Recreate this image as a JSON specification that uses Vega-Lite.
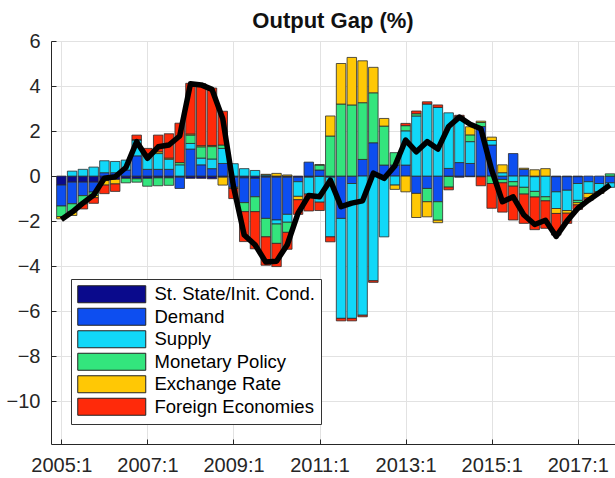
{
  "$schema": "https://vega.github.io/schema/vega-lite/v6.json",
  "width": 564,
  "height": 403,
  "autosize": {"type": "none"},
  "padding": {"left": 51, "top": 41, "right": 0, "bottom": 34},
  "background": "white",
  "title": {"text": "Output Gap (%)", "fontSize": 22, "fontWeight": "bold", "font": "Liberation Sans", "color": "#111111", "offset": -2, "anchor": "middle"},
  "config": {"view": {"stroke": null}, "font": "Liberation Sans"},
  "datasets": {
    "components": [
      {"key": "ss", "name": "St. State/Init. Cond.", "ord": 1},
      {"key": "dem", "name": "Demand", "ord": 2},
      {"key": "sup", "name": "Supply", "ord": 3},
      {"key": "mon", "name": "Monetary Policy", "ord": 4},
      {"key": "exr", "name": "Exchange Rate", "ord": 5},
      {"key": "fe", "name": "Foreign Economies", "ord": 6}
    ],
    "decomp": [
      {"t": 2005.00, "ss": -0.4, "dem": -0.93, "sup": 0, "mon": -0.47, "exr": -0.1, "fe": 0, "gap": -1.93},
      {"t": 2005.25, "ss": -0.27, "dem": -0.96, "sup": 0.22, "mon": -0.37, "exr": -0.15, "fe": 0, "gap": -1.6},
      {"t": 2005.50, "ss": -0.27, "dem": -0.6, "sup": 0.3, "mon": -0.37, "exr": 0, "fe": -0.22, "gap": -1.2},
      {"t": 2005.75, "ss": -0.27, "dem": -0.44, "sup": 0.4, "mon": -0.15, "exr": -0.1, "fe": -0.25, "gap": -0.84},
      {"t": 2006.00, "ss": -0.2, "dem": 0.15, "sup": 0.53, "mon": 0, "exr": -0.2, "fe": -0.38, "gap": -0.1},
      {"t": 2006.25, "ss": -0.15, "dem": 0.15, "sup": 0.5, "mon": 0, "exr": -0.2, "fe": -0.33, "gap": -0.03},
      {"t": 2006.50, "ss": -0.1, "dem": 0.27, "sup": 0.44, "mon": -0.2, "exr": 0, "fe": 0, "gap": 0.38},
      {"t": 2006.75, "ss": -0.12, "dem": 0.9, "sup": 0.7, "mon": -0.15, "exr": 0.02, "fe": 0.2, "gap": 1.53},
      {"t": 2007.00, "ss": -0.1, "dem": 0.3, "sup": 0.65, "mon": -0.35, "exr": 0.03, "fe": 0.25, "gap": 0.79},
      {"t": 2007.25, "ss": -0.08, "dem": 0.3, "sup": 0.7, "mon": -0.35, "exr": 0.08, "fe": 0.74, "gap": 1.3},
      {"t": 2007.50, "ss": -0.08, "dem": 0.3, "sup": 0.45, "mon": -0.33, "exr": 0.05, "fe": 1.08, "gap": 1.38},
      {"t": 2007.75, "ss": -0.05, "dem": -0.5, "sup": 0.5, "mon": 0.1, "exr": 0, "fe": 1.75, "gap": 1.78},
      {"t": 2008.00, "ss": -0.1, "dem": 1.2, "sup": 0.25, "mon": 0.37, "exr": 0.05, "fe": 2.25, "gap": 4.1},
      {"t": 2008.25, "ss": -0.1, "dem": 0.5, "sup": 0.3, "mon": 0.5, "exr": 0.05, "fe": 2.75, "gap": 4.05},
      {"t": 2008.50, "ss": -0.12, "dem": 0.33, "sup": 0.43, "mon": 0.55, "exr": 0.05, "fe": 2.55, "gap": 3.85},
      {"t": 2008.75, "ss": -0.05, "dem": 0.56, "sup": 0.67, "mon": 0.15, "exr": -0.35, "fe": 1.5, "gap": 2.55},
      {"t": 2009.00, "ss": -0.05, "dem": -0.45, "sup": 0.55, "mon": 0, "exr": -0.05, "fe": -0.45, "gap": -0.47},
      {"t": 2009.25, "ss": -0.08, "dem": -1.1, "sup": 0.33, "mon": -0.4, "exr": 0, "fe": -1.33, "gap": -2.62},
      {"t": 2009.50, "ss": -0.1, "dem": -0.82, "sup": 0.25, "mon": -0.66, "exr": 0, "fe": -1.65, "gap": -3.05},
      {"t": 2009.75, "ss": -0.05, "dem": -1.83, "sup": 0.05, "mon": -0.82, "exr": 0.03, "fe": -1.26, "gap": -3.82},
      {"t": 2010.00, "ss": -0.05, "dem": -1.9, "sup": -0.18, "mon": -0.86, "exr": 0.12, "fe": -1.03, "gap": -3.78},
      {"t": 2010.25, "ss": -0.05, "dem": -1.65, "sup": -0.35, "mon": -0.45, "exr": 0.05, "fe": -0.75, "gap": -3.05},
      {"t": 2010.50, "ss": -0.05, "dem": -0.2, "sup": -0.65, "mon": 0, "exr": -0.15, "fe": -0.65, "gap": -1.65},
      {"t": 2010.75, "ss": -0.05, "dem": 0.62, "sup": -0.75, "mon": 0, "exr": 0, "fe": -0.75, "gap": -0.86},
      {"t": 2011.00, "ss": -0.02, "dem": 0.27, "sup": -1.14, "mon": 0.22, "exr": 0.02, "fe": -0.37, "gap": -0.92},
      {"t": 2011.25, "ss": -0.05, "dem": 0, "sup": -2.65, "mon": 1.78, "exr": 0.89, "fe": -0.22, "gap": -0.18},
      {"t": 2011.50, "ss": 0, "dem": -1.88, "sup": -4.44, "mon": 3.2, "exr": 1.8, "fe": -0.11, "gap": -1.36},
      {"t": 2011.75, "ss": 0, "dem": -0.33, "sup": -5.99, "mon": 3.16, "exr": 2.11, "fe": -0.11, "gap": -1.2},
      {"t": 2012.00, "ss": 0, "dem": 0.74, "sup": -6.18, "mon": 2.52, "exr": 1.86, "fe": -0.07, "gap": -1.1},
      {"t": 2012.25, "ss": 0, "dem": 1.48, "sup": -4.65, "mon": 2.22, "exr": 1.13, "fe": -0.07, "gap": 0.13},
      {"t": 2012.50, "ss": 0, "dem": 0.49, "sup": -2.7, "mon": 1.73, "exr": 0.34, "fe": 0, "gap": -0.1},
      {"t": 2012.75, "ss": 0, "dem": 0.49, "sup": -0.4, "mon": 0.55, "exr": -0.19, "fe": 0, "gap": 0.45},
      {"t": 2013.00, "ss": 0, "dem": 0.49, "sup": 1.52, "mon": 0.23, "exr": -0.7, "fe": 0.1, "gap": 1.6},
      {"t": 2013.25, "ss": 0, "dem": -0.77, "sup": 2.67, "mon": 0.1, "exr": -1.07, "fe": 0.12, "gap": 1.08},
      {"t": 2013.50, "ss": 0, "dem": -0.55, "sup": 3.2, "mon": -0.59, "exr": -0.67, "fe": 0.1, "gap": 1.53},
      {"t": 2013.75, "ss": 0, "dem": -1.14, "sup": 3.05, "mon": -0.82, "exr": -0.11, "fe": 0.11, "gap": 1.2},
      {"t": 2014.00, "ss": -0.02, "dem": 0.34, "sup": 2.47, "mon": -0.47, "exr": 0, "fe": -0.12, "gap": 2.2},
      {"t": 2014.25, "ss": -0.05, "dem": 0.6, "sup": 2.0, "mon": 0.02, "exr": 0.03, "fe": 0.05, "gap": 2.62},
      {"t": 2014.50, "ss": -0.03, "dem": 0.56, "sup": 0.97, "mon": 0.3, "exr": 0.36, "fe": 0, "gap": 2.3},
      {"t": 2014.75, "ss": -0.03, "dem": 2.2, "sup": 0, "mon": 0.18, "exr": 0.06, "fe": -0.4, "gap": 2.1},
      {"t": 2015.00, "ss": 0, "dem": 1.38, "sup": 0.2, "mon": -0.33, "exr": 0.15, "fe": -1.1, "gap": 0.27},
      {"t": 2015.25, "ss": 0, "dem": -0.15, "sup": 0.15, "mon": -0.15, "exr": 0.35, "fe": -1.3, "gap": -1.14},
      {"t": 2015.50, "ss": 0, "dem": 1.0, "sup": -0.25, "mon": -0.2, "exr": 0, "fe": -1.5, "gap": -0.92},
      {"t": 2015.75, "ss": 0, "dem": 0.3, "sup": -0.5, "mon": -0.3, "exr": 0.05, "fe": -1.3, "gap": -1.73},
      {"t": 2016.00, "ss": -0.03, "dem": 0, "sup": -0.65, "mon": -0.25, "exr": 0.28, "fe": -1.45, "gap": -2.15},
      {"t": 2016.25, "ss": 0, "dem": 0, "sup": -0.92, "mon": -0.18, "exr": 0.33, "fe": -1.22, "gap": -1.96},
      {"t": 2016.50, "ss": -0.03, "dem": -0.67, "sup": -0.74, "mon": 0, "exr": -0.22, "fe": -0.96, "gap": -2.68},
      {"t": 2016.75, "ss": -0.03, "dem": -0.6, "sup": -0.9, "mon": 0, "exr": -0.12, "fe": -0.45, "gap": -2.0},
      {"t": 2017.00, "ss": -0.03, "dem": -0.3, "sup": -0.75, "mon": -0.1, "exr": -0.1, "fe": -0.2, "gap": -1.44},
      {"t": 2017.25, "ss": 0, "dem": -0.25, "sup": -0.52, "mon": 0, "exr": -0.2, "fe": -0.1, "gap": -1.07},
      {"t": 2017.50, "ss": 0, "dem": -0.33, "sup": -0.37, "mon": 0, "exr": -0.07, "fe": 0, "gap": -0.74},
      {"t": 2017.75, "ss": 0, "dem": -0.3, "sup": -0.2, "mon": 0.1, "exr": 0, "fe": 0, "gap": -0.4}
    ]
  },
  "layer": [
    {
      "data": {"name": "decomp"},
      "transform": [
        {"fold": ["ss", "dem", "sup", "mon", "exr", "fe"], "as": ["key", "value"]},
        {"filter": "datum.value != 0"},
        {"lookup": "key", "from": {"data": {"name": "components"}, "key": "key", "fields": ["name", "ord"]}}
      ],
      "mark": {"type": "bar", "size": 9.5, "stroke": "#2b2b2b", "strokeWidth": 0.8, "clip": true},
      "encoding": {
        "x": {
          "field": "t", "type": "quantitative",
          "scale": {"domain": [2004.875, 2017.75], "nice": false, "zero": false},
          "axis": {
            "title": null, "values": [2005, 2007, 2009, 2011, 2013, 2015, 2017],
            "labelExpr": "datum.value + ':1'",
            "grid": true, "gridColor": "#e2e2e2", "gridWidth": 1,
            "domainColor": "#262626", "tickColor": "#262626", "tickSize": -5,
            "labelFontSize": 20, "labelFont": "Liberation Sans", "labelColor": "#262626", "labelPadding": 16,
            "labelFlush": false, "labelOverlap": false
          }
        },
        "y": {
          "field": "value", "type": "quantitative", "stack": "zero",
          "scale": {"domain": [-11.9, 6], "nice": false},
          "axis": {
            "title": null, "values": [-10, -8, -6, -4, -2, 0, 2, 4, 6],
            "grid": true, "gridColor": "#e2e2e2", "gridWidth": 1,
            "domainColor": "#262626", "tickColor": "#262626", "tickSize": -5,
            "labelFontSize": 20, "labelFont": "Liberation Sans", "labelColor": "#262626", "labelPadding": 16,
            "labelFlush": false, "labelOverlap": false
          }
        },
        "color": {
          "field": "name", "type": "nominal",
          "scale": {
            "domain": ["St. State/Init. Cond.", "Demand", "Supply", "Monetary Policy", "Exchange Rate", "Foreign Economies"],
            "range": ["#0A0A8C", "#0D4EF0", "#11D8F8", "#33E57D", "#FFC805", "#FF2A0A"]
          },
          "legend": {
            "title": null, "orient": "bottom-left", "offset": 20,
            "fillColor": "white", "strokeColor": "#333333", "padding": 6,
            "labelFontSize": 18.5, "labelFont": "Liberation Sans", "labelColor": "#000000", "labelLimit": 400,
            "symbolType": "M-1,-1H7V1H-1Z", "symbolSize": 289, "symbolStrokeColor": "#222222", "symbolStrokeWidth": 1,
            "symbolOpacity": 1, "labelOffset": 59, "rowPadding": 0.5
          }
        },
        "order": {"field": "ord", "type": "quantitative"}
      }
    },
    {
      "data": {"name": "decomp"},
      "mark": {"type": "line", "color": "black", "strokeWidth": 5.5, "clip": true, "strokeJoin": "round"},
      "encoding": {
        "x": {"field": "t", "type": "quantitative"},
        "y": {"field": "gap", "type": "quantitative"}
      }
    }
  ]
}
